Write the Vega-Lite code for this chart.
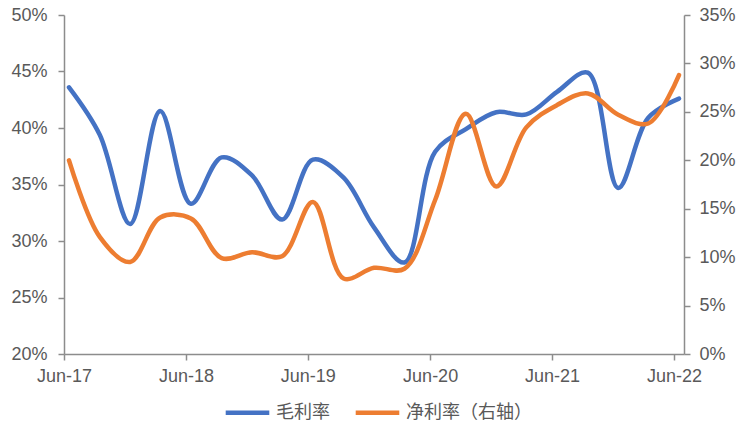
{
  "$schema": "https://vega.github.io/schema/vega-lite/v6.json",
  "width": 620,
  "height": 339,
  "autosize": {"type": "none"},
  "padding": {"left": 64, "top": 15, "right": 54, "bottom": 75},
  "config": {
    "view": {"stroke": null},
    "font": "Liberation Sans",
    "axis": {
      "grid": false,
      "domainColor": "#8c8c8c",
      "domainWidth": 1.5,
      "tickColor": "#8c8c8c",
      "tickWidth": 1.5,
      "tickSize": 6,
      "labelColor": "#595959",
      "labelFontSize": 18,
      "labelFont": "Liberation Sans",
      "title": null
    }
  },
  "data": {
    "values": [
      {"date": "2017-06-16", "series": "毛利率", "value": 0.436},
      {"date": "2017-09-16", "series": "毛利率", "value": 0.394},
      {"date": "2017-12-16", "series": "毛利率", "value": 0.315},
      {"date": "2018-03-16", "series": "毛利率", "value": 0.415},
      {"date": "2018-06-16", "series": "毛利率", "value": 0.333},
      {"date": "2018-09-16", "series": "毛利率", "value": 0.374},
      {"date": "2018-12-16", "series": "毛利率", "value": 0.358},
      {"date": "2019-03-16", "series": "毛利率", "value": 0.319},
      {"date": "2019-06-16", "series": "毛利率", "value": 0.372},
      {"date": "2019-09-16", "series": "毛利率", "value": 0.356},
      {"date": "2019-12-16", "series": "毛利率", "value": 0.312},
      {"date": "2020-03-16", "series": "毛利率", "value": 0.281},
      {"date": "2020-06-16", "series": "毛利率", "value": 0.379},
      {"date": "2020-09-16", "series": "毛利率", "value": 0.399},
      {"date": "2020-12-16", "series": "毛利率", "value": 0.414},
      {"date": "2021-03-16", "series": "毛利率", "value": 0.412},
      {"date": "2021-06-16", "series": "毛利率", "value": 0.432},
      {"date": "2021-09-16", "series": "毛利率", "value": 0.449},
      {"date": "2021-12-16", "series": "毛利率", "value": 0.347},
      {"date": "2022-03-16", "series": "毛利率", "value": 0.409},
      {"date": "2022-06-16", "series": "毛利率", "value": 0.426},
      {"date": "2017-06-16", "series": "净利率（右轴）", "value": 0.200},
      {"date": "2017-09-16", "series": "净利率（右轴）", "value": 0.121},
      {"date": "2017-12-16", "series": "净利率（右轴）", "value": 0.095},
      {"date": "2018-03-16", "series": "净利率（右轴）", "value": 0.141},
      {"date": "2018-06-16", "series": "净利率（右轴）", "value": 0.140},
      {"date": "2018-09-16", "series": "净利率（右轴）", "value": 0.099},
      {"date": "2018-12-16", "series": "净利率（右轴）", "value": 0.105},
      {"date": "2019-03-16", "series": "净利率（右轴）", "value": 0.101},
      {"date": "2019-06-16", "series": "净利率（右轴）", "value": 0.157},
      {"date": "2019-09-16", "series": "净利率（右轴）", "value": 0.078},
      {"date": "2019-12-16", "series": "净利率（右轴）", "value": 0.089},
      {"date": "2020-03-16", "series": "净利率（右轴）", "value": 0.088},
      {"date": "2020-06-16", "series": "净利率（右轴）", "value": 0.159},
      {"date": "2020-09-16", "series": "净利率（右轴）", "value": 0.248},
      {"date": "2020-12-16", "series": "净利率（右轴）", "value": 0.173},
      {"date": "2021-03-16", "series": "净利率（右轴）", "value": 0.234},
      {"date": "2021-06-16", "series": "净利率（右轴）", "value": 0.257},
      {"date": "2021-09-16", "series": "净利率（右轴）", "value": 0.269},
      {"date": "2021-12-16", "series": "净利率（右轴）", "value": 0.247},
      {"date": "2022-03-16", "series": "净利率（右轴）", "value": 0.238},
      {"date": "2022-06-16", "series": "净利率（右轴）", "value": 0.288}
    ]
  },
  "encoding": {
    "x": {
      "field": "date",
      "type": "temporal",
      "scale": {
        "type": "utc",
        "domain": [
          {"year": 2017, "month": 6, "date": 1, "utc": true},
          {"year": 2022, "month": 7, "date": 1, "utc": true}
        ]
      },
      "axis": {
        "values": [
          {"year": 2017, "month": 6, "date": 1, "utc": true},
          {"year": 2018, "month": 6, "date": 1, "utc": true},
          {"year": 2019, "month": 6, "date": 1, "utc": true},
          {"year": 2020, "month": 6, "date": 1, "utc": true},
          {"year": 2021, "month": 6, "date": 1, "utc": true},
          {"year": 2022, "month": 6, "date": 1, "utc": true}
        ],
        "format": "%b-%y",
        "labelPadding": 7,
        "labelFlush": false,
        "labelOverlap": false
      }
    },
    "color": {
      "field": "series",
      "type": "nominal",
      "scale": {
        "domain": ["毛利率", "净利率（右轴）"],
        "range": ["#4472C4", "#ED7D31"]
      },
      "legend": {
        "orient": "none",
        "direction": "horizontal",
        "legendX": 159,
        "legendY": 373,
        "title": null,
        "symbolType": "stroke",
        "symbolSize": 1900,
        "symbolStrokeWidth": 4.5,
        "labelFontSize": 18,
        "labelFont": "Noto Sans CJK SC",
        "labelColor": "#595959",
        "labelOffset": 4,
        "columnPadding": 16
      }
    }
  },
  "layer": [
    {
      "transform": [{"filter": "datum.series === '毛利率'"}],
      "mark": {"type": "line", "interpolate": "catmull-rom", "strokeWidth": 4.5, "strokeCap": "round"},
      "encoding": {
        "y": {
          "field": "value",
          "type": "quantitative",
          "scale": {"domain": [0.2, 0.5], "nice": false, "zero": false},
          "axis": {
            "orient": "left",
            "values": [0.2, 0.25, 0.3, 0.35, 0.4, 0.45, 0.5],
            "format": ".0%",
            "labelPadding": 11
          }
        }
      }
    },
    {
      "transform": [{"filter": "datum.series === '净利率（右轴）'"}],
      "mark": {"type": "line", "interpolate": "catmull-rom", "strokeWidth": 4.5, "strokeCap": "round"},
      "encoding": {
        "y": {
          "field": "value",
          "type": "quantitative",
          "scale": {"domain": [0, 0.35], "nice": false},
          "axis": {
            "orient": "right",
            "values": [0, 0.05, 0.1, 0.15, 0.2, 0.25, 0.3, 0.35],
            "format": ".0%",
            "labelPadding": 9
          }
        }
      }
    }
  ],
  "resolve": {"scale": {"y": "independent"}}
}
